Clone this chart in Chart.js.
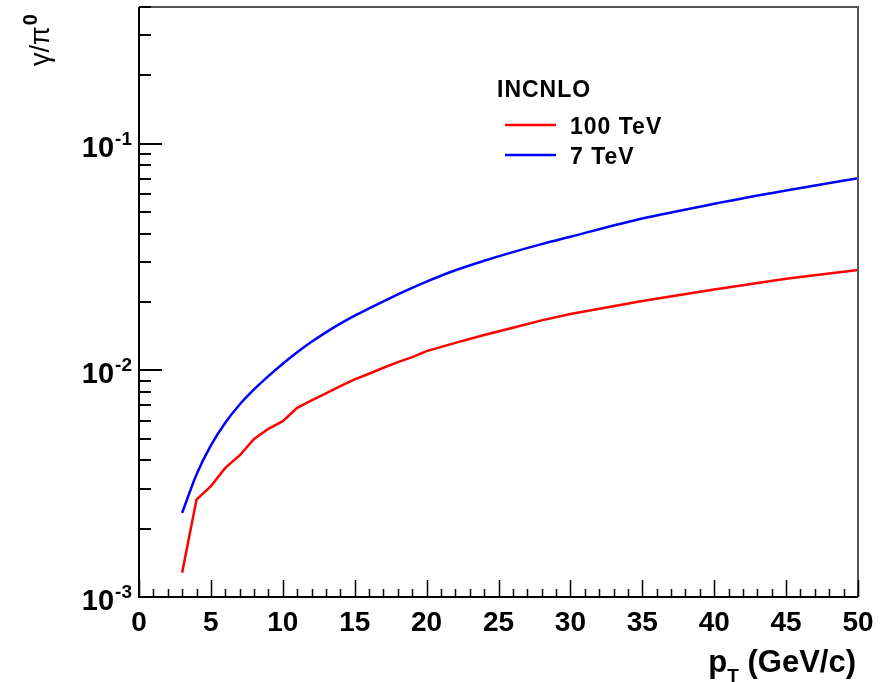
<!DOCTYPE html>
<html>
<head>
<meta charset="utf-8">
<script src="https://cdn.jsdelivr.net/npm/chart.js@4.4.1/dist/chart.umd.min.js"></script>
<style>
  html, body { margin: 0; padding: 0; background: #fff; }
  #wrap { width: 889px; height: 682px; position: relative; }
</style>
</head>
<body>
<div id="wrap"><canvas id="c"></canvas></div>
<script>
const ptValues = [3, 4, 5, 6, 7, 8, 9, 10, 11, 12, 13, 14, 15, 16, 17, 18, 19, 20, 22, 24, 26, 28, 30, 35, 40, 45, 50];

const ratio100TeV = [
    1.28e-3, 2.69e-3, 3.08e-3, 3.71e-3, 4.21e-3, 4.98e-3, 5.52e-3, 5.96e-3, 6.83e-3,
    7.36e-3, 7.90e-3, 8.51e-3, 9.11e-3, 9.65e-3, 1.026e-2, 1.086e-2, 1.142e-2, 1.214e-2,
    1.32e-2, 1.43e-2, 1.54e-2, 1.66e-2, 1.77e-2, 2.02e-2, 2.27e-2, 2.53e-2, 2.77e-2,
];

const ratio7TeV = [
    2.35e-3, 3.47e-3, 4.66e-3, 5.87e-3, 7.06e-3, 8.23e-3, 9.42e-3, 1.068e-2, 1.20e-2,
    1.335e-2, 1.47e-2, 1.605e-2, 1.74e-2, 1.875e-2, 2.015e-2, 2.16e-2, 2.31e-2, 2.46e-2,
    2.76e-2, 3.04e-2, 3.32e-2, 3.60e-2, 3.88e-2, 4.67e-2, 5.42e-2, 6.20e-2, 7.03e-2,
];

const seriesLabels = ['100 TeV', '7 TeV'];
const legendTitle = 'INCNLO';
const xTickLabels = [0, 5, 10, 15, 20, 25, 30, 35, 40, 45, 50];
const yDecades = [-3, -2, -1];

const FONT = '"Liberation Sans", Arial, Helvetica, sans-serif';

function toPoints(values) {
    return ptValues.map((x, i) => ({ x, y: values[i] }));
}

// frame, ticks, labels and legend drawn ROOT-style on top of the chart
const rootFrame = {
    id: 'rootFrame',
    afterDraw(chart) {
        const { ctx, chartArea: a } = chart;
        const xs = chart.scales.x;
        const ys = chart.scales.y;
        ctx.save();

        // top/right box
        ctx.strokeStyle = '#555';
        ctx.lineWidth = 2;
        ctx.beginPath();
        ctx.moveTo(a.left, a.top);
        ctx.lineTo(a.right, a.top);
        ctx.lineTo(a.right, a.bottom);
        ctx.stroke();

        // axes
        ctx.strokeStyle = '#000';
        ctx.lineWidth = 2;
        ctx.beginPath();
        ctx.moveTo(a.left, a.top);
        ctx.lineTo(a.left, a.bottom);
        ctx.lineTo(a.right, a.bottom);
        ctx.stroke();

        // x ticks
        ctx.lineWidth = 1.5;
        ctx.beginPath();
        for (let v = 0; v <= 50; v++) {
            const px = Math.round(xs.getPixelForValue(v)) + 0.5;
            const len = v % 5 === 0 ? 17 : 8;
            ctx.moveTo(px, a.bottom);
            ctx.lineTo(px, a.bottom - len);
        }
        ctx.stroke();

        // y ticks
        ctx.lineWidth = 2;
        ctx.beginPath();
        for (const d of yDecades) {
            for (let m = 1; m <= 9; m++) {
                const v = m * Math.pow(10, d);
                if (v > ys.max * 1.0001) continue;
                const py = Math.round(ys.getPixelForValue(v));
                const len = m === 1 ? 23 : 12;
                ctx.moveTo(a.left, py);
                ctx.lineTo(a.left + len, py);
            }
        }
        ctx.stroke();

        // x tick labels
        ctx.fillStyle = '#000';
        ctx.font = 'bold 28px ' + FONT;
        ctx.textAlign = 'center';
        ctx.textBaseline = 'alphabetic';
        for (const v of xTickLabels) {
            ctx.fillText(String(v), xs.getPixelForValue(v), 631);
        }

        // y tick labels 10^d
        for (const d of yDecades) {
            const py = ys.getPixelForValue(Math.pow(10, d));
            ctx.font = 'bold 19px ' + FONT;
            const sup = String(d);
            const supW = ctx.measureText(sup).width;
            const right = a.left - 7;
            ctx.textAlign = 'left';
            ctx.fillText(sup, right - supW, py + 1);
            ctx.font = 'bold 29px ' + FONT;
            ctx.textAlign = 'right';
            ctx.fillText('10', right - supW - 1, py + 13);
        }

        // x title: p_T (GeV/c)
        ctx.textAlign = 'left';
        ctx.font = 'bold 31px ' + FONT;
        const rest = ' (GeV/c)';
        const restW = ctx.measureText(rest).width;
        const pW = ctx.measureText('p').width;
        ctx.font = 'bold 19px ' + FONT;
        const tW = ctx.measureText('T').width;
        const startX = a.right - 2 - restW - tW - pW;
        ctx.font = 'bold 31px ' + FONT;
        ctx.fillText('p', startX, 672);
        ctx.fillText(rest, startX + pW + tW, 672);
        ctx.font = 'bold 19px ' + FONT;
        ctx.fillText('T', startX + pW, 682);

        // y title: gamma / pi^0, rotated
        ctx.save();
        ctx.translate(49, 66);
        ctx.rotate(-Math.PI / 2);
        ctx.font = '27px ' + FONT;
        ctx.textAlign = 'left';
        ctx.fillText('\u03b3/\u03c0', 0, 0);
        const gw = ctx.measureText('\u03b3/\u03c0').width;
        ctx.font = 'bold 20px ' + FONT;
        ctx.fillText('0', gw + 1, -12);
        ctx.restore();

        // legend
        ctx.font = 'bold 23px ' + FONT;
        ctx.letterSpacing = '1px';
        ctx.textAlign = 'left';
        ctx.fillText(legendTitle, 497, 97);
        const rows = [125, 155];
        chart.data.datasets.forEach((ds, i) => {
            ctx.strokeStyle = ds.borderColor;
            ctx.lineWidth = 2.5;
            ctx.beginPath();
            ctx.moveTo(505, rows[i]);
            ctx.lineTo(556, rows[i]);
            ctx.stroke();
            ctx.font = 'bold 23px ' + FONT;
            ctx.fillText(ds.label, 570, rows[i] + 9);
        });
        ctx.letterSpacing = '0px';
        ctx.restore();
    },
};

new Chart(document.getElementById('c'), {
    type: 'line',
    data: {
        datasets: [
            {
                label: seriesLabels[0],
                data: toPoints(ratio100TeV),
                borderColor: '#ff0000',
                borderWidth: 2.5,
                pointRadius: 0,
                tension: 0,
            },
            {
                label: seriesLabels[1],
                data: toPoints(ratio7TeV),
                borderColor: '#0000ff',
                borderWidth: 2.5,
                pointRadius: 0,
                cubicInterpolationMode: 'monotone',
            },
        ],
    },
    options: {
        responsive: true,
        maintainAspectRatio: false,
        animation: false,
        layout: { padding: { left: 139, right: 31, top: 7, bottom: 85 } },
        plugins: {
            legend: { display: false },
            tooltip: { enabled: false },
        },
        scales: {
            x: { type: 'linear', min: 0, max: 50, display: false },
            y: { type: 'logarithmic', min: 0.001, max: 0.4, display: false },
        },
    },
    plugins: [rootFrame],
});
</script>
</body>
</html>
